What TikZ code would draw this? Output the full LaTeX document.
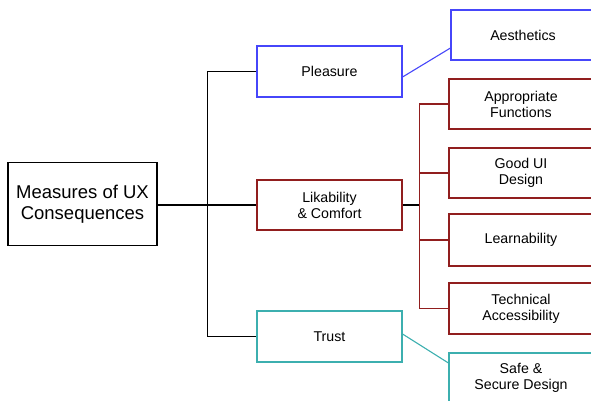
\documentclass[tikz,border=0pt]{standalone}
\usepackage{fontspec}
\setmainfont{Liberation Sans}
\usetikzlibrary{calc}
\definecolor{uxblue}{RGB}{70,70,250}
\definecolor{uxred}{RGB}{145,30,30}
\definecolor{uxteal}{RGB}{60,175,175}
\begin{document}
\begin{tikzpicture}[x=1pt,y=-1pt,
  box/.style={draw,line width=1.1pt,inner sep=0pt,align=center,
    font=\fontsize{14.2}{16}\selectfont,minimum width=145pt,minimum height=51pt},
  rootbox/.style={draw=black,line width=1.1pt,inner sep=0pt,align=center,
    font=\fontsize{18.5}{21}\selectfont,minimum width=149pt,minimum height=83pt},
  wire/.style={line width=1.1pt}]
\useasboundingbox (0,0) rectangle (591,400);
\clip (0,0) rectangle (591,400);

% root
\node[rootbox] (root) at (82.5,204) {Measures of UX\\Consequences};

% second level
\node[box,draw=uxblue] (pleas) at (329.5,71.5) {Pleasure};
\node[box,draw=uxred,minimum height=50pt] (like) at (329.5,205) {Likability\\\& Comfort};
\node[box,draw=uxteal] (trust) at (329.5,336.5) {Trust};

% third level
\node[box,draw=uxblue,minimum width=144pt,minimum height=50pt] (aest) at (523,35) {Aesthetics};
\node[box,draw=uxred,minimum width=144pt,minimum height=50pt] (appr) at (521,104) {Appropriate\\Functions};
\node[box,draw=uxred,minimum width=144pt,minimum height=50pt] (good) at (521,173) {Good UI\\Design};
\node[box,draw=uxred,minimum width=144pt,minimum height=52pt] (learn) at (521,240) {Learnability};
\node[box,draw=uxred,minimum width=144pt,minimum height=51pt] (tech) at (521,308.5) {Technical\\Accessibility};
\node[box,draw=uxteal,minimum width=144pt,minimum height=50pt] (safe) at (521,378) {Safe \&\\Secure Design};

% black tree from the root
\draw[wire] (root.east |- like.west) -- (like.west);
\draw[wire] (pleas.west) -- ++(-49,0) coordinate (ttop) |- (trust.west);

% red branch
\coordinate (rtop) at ($(appr.west)+(-29,0)$);
\draw[wire] (like.east) -- (like.east -| rtop);
\draw[wire,uxred] (appr.west) -- (rtop) |- (tech.west);
\draw[wire,uxred] (good.west) -- (good.west -| rtop);
\draw[wire,uxred] (learn.west) -- (learn.west -| rtop);

% slanted links
\draw[wire,uxblue] ($(pleas.east)+(0,5.5)$) -- ($(aest.west)+(0,13)$);
\draw[wire,uxteal] ($(trust.east)+(0,-2.5)$) -- ($(safe.west)+(0,-15)$);
\end{tikzpicture}
\end{document}
